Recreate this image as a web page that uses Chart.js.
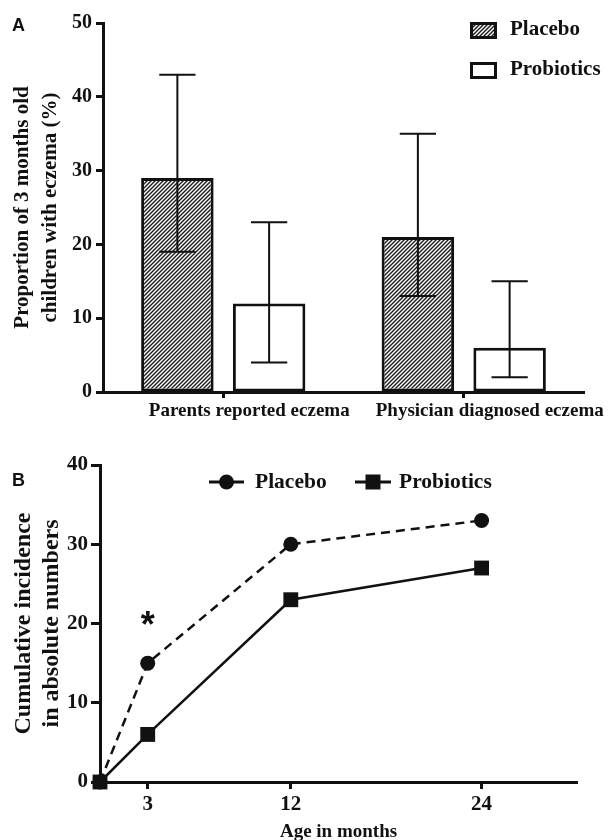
<!DOCTYPE html>
<html>
<head>
<meta charset="utf-8">
<script src="https://cdn.jsdelivr.net/npm/chart.js@4.4.0/dist/chart.umd.min.js"></script>
<style>
body { margin: 0; background: #fff; }
#wrap { position: relative; width: 608px; height: 840px; overflow: hidden; }
canvas { position: absolute; left: 0; }
#chartA { top: 0; }
#chartB { top: 440px; }
.panel { position: absolute; font: bold 18px "Liberation Sans", Arial, sans-serif; color: #111; line-height: 20px; }
</style>
</head>
<body>
<div id="wrap">
  <canvas id="chartA" width="608" height="430"></canvas>
  <canvas id="chartB" width="608" height="400"></canvas>
  <div class="panel" style="left:12px; top:15px">A</div>
  <div class="panel" style="left:12px; top:470px">B</div>
</div>
<script>
// Panel A data
const groupLabels = ['Parents reported eczema', 'Physician diagnosed eczema'];
const placeboPct = [29, 21];
const placeboLow = [19, 13];
const placeboHigh = [43, 35];
const probioticsPct = [12, 6];
const probioticsLow = [4, 2];
const probioticsHigh = [23, 15];
const pctTicks = [0, 10, 20, 30, 40, 50];

// Panel B data
const ageMonths = [0, 3, 12, 24];
const placeboCases = [0, 15, 30, 33];
const probioticsCases = [0, 6, 23, 27];
const ageTicks = [3, 12, 24];
const caseTicks = [0, 10, 20, 30, 40];

const INK = '#111';
const SERIF = '"Liberation Serif", "Times New Roman", serif';

function hatchPattern(ctx) {
    const c = document.createElement('canvas');
    c.width = 4; c.height = 4;
    const g = c.getContext('2d');
    g.fillStyle = '#fff';
    g.fillRect(0, 0, 4, 4);
    g.strokeStyle = '#1a1a1a';
    g.lineWidth = 1.4;
    g.beginPath();
    g.moveTo(0, 4); g.lineTo(4, 0);
    g.moveTo(-1, 1); g.lineTo(1, -1);
    g.moveTo(3, 5); g.lineTo(5, 3);
    g.stroke();
    return ctx.createPattern(c, 'repeat');
}

// error bars drawn over the bars
const errorBars = {
    id: 'errorBars',
    afterDatasetsDraw(chart) {
        const ctx = chart.ctx, y = chart.scales.y;
        chart.data.datasets.forEach((ds, i) => {
            chart.getDatasetMeta(i).data.forEach((bar, j) => {
                const lo = y.getPixelForValue(ds.errLow[j]);
                const hi = y.getPixelForValue(ds.errHigh[j]);
                const half = bar.width / 4;
                ctx.save();
                ctx.strokeStyle = INK;
                ctx.lineWidth = 2;
                ctx.beginPath();
                ctx.moveTo(bar.x, lo); ctx.lineTo(bar.x, hi);
                ctx.moveTo(bar.x - half, hi); ctx.lineTo(bar.x + half, hi);
                ctx.moveTo(bar.x - half, lo); ctx.lineTo(bar.x + half, lo);
                ctx.stroke();
                ctx.restore();
            });
        });
    }
};

const legendA = {
    id: 'legendA',
    afterDraw(chart) {
        const ctx = chart.ctx;
        ctx.save();
        chart.data.datasets.forEach((ds, i) => {
            const yc = 30 + i * 40;
            ctx.fillStyle = ds.backgroundColor;
            ctx.fillRect(470, yc - 8, 27, 17);
            ctx.strokeStyle = INK;
            ctx.lineWidth = 3;
            ctx.strokeRect(471.5, yc - 6.5, 24, 14);
            ctx.fillStyle = INK;
            ctx.font = 'bold 21px ' + SERIF;
            ctx.textBaseline = 'middle';
            ctx.fillText(ds.label, 510, yc);
        });
        ctx.restore();
    }
};

const ctxA = document.getElementById('chartA').getContext('2d');
new Chart(ctxA, {
    type: 'bar',
    data: {
        labels: groupLabels,
        datasets: [
            { label: 'Placebo', data: placeboPct, errLow: placeboLow, errHigh: placeboHigh,
              backgroundColor: hatchPattern(ctxA), borderColor: INK, borderWidth: 3, borderSkipped: false },
            { label: 'Probiotics', data: probioticsPct, errLow: probioticsLow, errHigh: probioticsHigh,
              backgroundColor: '#fff', borderColor: INK, borderWidth: 3, borderSkipped: false }
        ]
    },
    options: {
        responsive: false,
        animation: false,
        categoryPercentage: 0.763,
        barPercentage: 0.79,
        layout: { padding: { left: 0, right: 24, top: 23, bottom: 0 } },
        plugins: { legend: { display: false }, tooltip: { enabled: false } },
        scales: {
            x: {
                afterFit: s => { s.height = 38; },
                border: { color: INK, width: 3 },
                grid: { offset: false, drawOnChartArea: false, tickLength: 6, tickWidth: 3, tickColor: INK },
                ticks: { color: INK, padding: 2, labelOffset: 26, maxRotation: 0, autoSkip: false,
                         font: { family: SERIF, weight: 'bold', size: 19 } }
            },
            y: {
                min: 0, max: 50,
                afterBuildTicks: s => { s.ticks = pctTicks.map(v => ({ value: v })); },
                afterFit: s => { s.width = 103; },
                border: { color: INK, width: 3 },
                grid: { drawOnChartArea: false, tickLength: 7, tickWidth: 3, tickColor: INK },
                ticks: { color: INK, padding: 4, font: { family: SERIF, weight: 'bold', size: 20 } },
                title: { display: true, text: ['Proportion of 3 months old', 'children with eczema (%)'],
                         color: INK, padding: { top: 9, bottom: 0 },
                         font: { family: SERIF, weight: 'bold', size: 21, lineHeight: 28 / 21 } }
            }
        }
    },
    plugins: [errorBars, legendA]
});

const legendB = {
    id: 'legendB',
    afterDraw(chart) {
        const ctx = chart.ctx;
        const yc = 42;
        const items = [
            { x0: 209, x1: 244, tx: 255 },
            { x0: 355, x1: 391, tx: 399 }
        ];
        ctx.save();
        chart.data.datasets.forEach((ds, i) => {
            const it = items[i];
            const cx = (it.x0 + it.x1) / 2;
            ctx.strokeStyle = INK;
            ctx.lineWidth = 3;
            ctx.beginPath();
            ctx.moveTo(it.x0, yc); ctx.lineTo(it.x1, yc);
            ctx.stroke();
            ctx.fillStyle = INK;
            if (ds.pointStyle === 'circle') {
                ctx.beginPath();
                ctx.arc(cx, yc, 7.5, 0, Math.PI * 2);
                ctx.fill();
            } else {
                ctx.fillRect(cx - 7.5, yc - 7.5, 15, 15);
            }
            ctx.font = 'bold 21.5px ' + SERIF;
            ctx.textBaseline = 'middle';
            ctx.fillText(ds.label, it.tx, yc);
        });
        ctx.restore();
    }
};

// significance mark at 3 months
const starMark = {
    id: 'starMark',
    afterDatasetsDraw(chart) {
        const ctx = chart.ctx;
        const x = chart.scales.x.getPixelForValue(3);
        const y = chart.scales.y.getPixelForValue(20.7);
        ctx.save();
        ctx.fillStyle = INK;
        ctx.font = 'bold 36px "Liberation Sans", Arial, sans-serif';
        ctx.textAlign = 'center';
        ctx.textBaseline = 'alphabetic';
        ctx.fillText('*', x, y + 19);
        ctx.restore();
    }
};

new Chart(document.getElementById('chartB'), {
    type: 'line',
    data: {
        datasets: [
            { label: 'Placebo', data: ageMonths.map((m, i) => ({ x: m, y: placeboCases[i] })),
              borderColor: INK, borderWidth: 2.5, borderDash: [9, 6], tension: 0, clip: false,
              pointStyle: 'circle', pointRadius: 7.5, pointBackgroundColor: INK, pointBorderWidth: 0 },
            { label: 'Probiotics', data: ageMonths.map((m, i) => ({ x: m, y: probioticsCases[i] })),
              borderColor: INK, borderWidth: 2.5, tension: 0, clip: false,
              pointStyle: 'rect', pointRadius: 10.5, pointBackgroundColor: INK, pointBorderWidth: 0 }
        ]
    },
    options: {
        responsive: false,
        animation: false,
        layout: { padding: { left: 0, right: 31, top: 25, bottom: 0 } },
        plugins: { legend: { display: false }, tooltip: { enabled: false } },
        scales: {
            x: {
                type: 'linear', min: 0, max: 30,
                afterBuildTicks: s => { s.ticks = ageTicks.map(v => ({ value: v })); },
                afterFit: s => { s.height = 58; },
                border: { color: INK, width: 3 },
                grid: { drawOnChartArea: false, tickLength: 7, tickWidth: 3, tickColor: INK },
                ticks: { color: INK, padding: 3, maxRotation: 0, font: { family: SERIF, weight: 'bold', size: 21 } },
                title: { display: true, text: 'Age in months', color: INK, padding: { top: 0, bottom: -2 },
                         font: { family: SERIF, weight: 'bold', size: 19, lineHeight: 1 } }
            },
            y: {
                min: 0, max: 40,
                afterBuildTicks: s => { s.ticks = caseTicks.map(v => ({ value: v })); },
                afterFit: s => { s.width = 100; },
                border: { color: INK, width: 3 },
                grid: { drawOnChartArea: false, tickLength: 9, tickWidth: 3, tickColor: INK },
                ticks: { color: INK, padding: 3, font: { family: SERIF, weight: 'bold', size: 21 } },
                title: { display: true, text: ['Cumulative incidence', 'in absolute numbers'],
                         color: INK, padding: { top: 10, bottom: 0 },
                         font: { family: SERIF, weight: 'bold', size: 24, lineHeight: 28 / 24 } }
            }
        }
    },
    plugins: [starMark, legendB]
});
</script>
</body>
</html>
